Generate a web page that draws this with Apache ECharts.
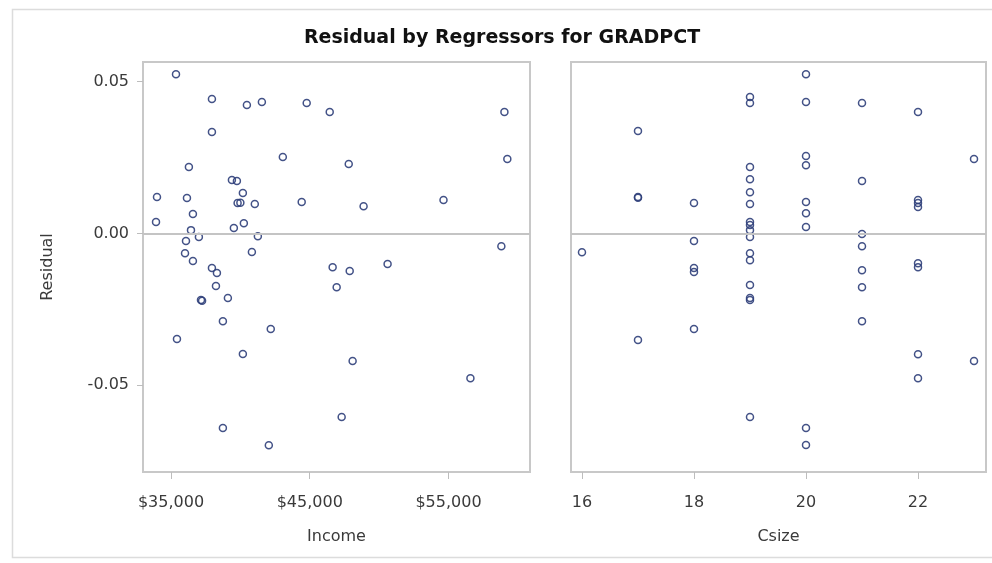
<!DOCTYPE html>
<html>
<head>
<meta charset="utf-8">
<title>Residual by Regressors for GRADPCT</title>
<script src="https://cdn.jsdelivr.net/npm/echarts@6/dist/echarts.min.js"></script>
<style>
  html, body { margin: 0; padding: 0; background: #fff; }
  #chart { width: 992px; height: 563px; }
</style>
</head>
<body>
<div id="chart"></div>
<script>
// Residuals of the GRADPCT model plotted against each regressor
const incomeValues = [
  35360, 37950, 40470, 41550, 44780, 46440, 59030, 37950, 43060, 59240,
  47810, 36290, 39390, 39750, 40180, 33990, 36150, 54640, 44420, 39800,
  40000, 41040, 48880, 36580, 33920, 40250, 39530, 36440, 41260, 37010,
  36080, 58810, 40830, 36010, 36580, 50610, 46650, 37950, 47880, 38310,
  38240, 46940, 39100, 37160, 37240, 38740, 42190, 35430, 40180, 48090,
  56580, 47300, 38740, 42050
];
const incomeResiduals = [
  0.0525, 0.0443, 0.0423, 0.0433, 0.0430, 0.0400, 0.0400, 0.0334, 0.0252, 0.0245,
  0.0229, 0.0219, 0.0176, 0.0173, 0.0133, 0.0120, 0.0117, 0.0110, 0.0104, 0.0100,
  0.0101, 0.0097, 0.0090, 0.0064, 0.0038, 0.0034, 0.0018, 0.0011, -0.0009, -0.0012,
  -0.0025, -0.0042, -0.0061, -0.0065, -0.0091, -0.0101, -0.0111, -0.0114, -0.0124, -0.0130,
  -0.0173, -0.0177, -0.0213, -0.0219, -0.0222, -0.0289, -0.0315, -0.0348, -0.0397, -0.0420,
  -0.0477, -0.0605, -0.0641, -0.0698
];

const csizeValues = [
  16,
  17, 17, 17, 17,
  18, 18, 18, 18, 18,
  19, 19, 19, 19, 19, 19, 19, 19, 19, 19, 19, 19, 19, 19, 19, 19,
  20, 20, 20, 20, 20, 20, 20, 20, 20,
  21, 21, 21, 21, 21, 21, 21,
  22, 22, 22, 22, 22, 22, 22, 22,
  23, 23
];
const csizeResiduals = [
  -0.0062,
  0.0338, 0.0120, 0.0118, -0.0351,
  0.0100, -0.0025, -0.0114, -0.0127, -0.0315,
  0.0450, 0.0430, 0.0219, 0.0179, 0.0136, 0.0097, 0.0038, 0.0028, 0.0011, -0.0012,
  -0.0065, -0.0088, -0.0170, -0.0213, -0.0219, -0.0605,
  0.0525, 0.0433, 0.0255, 0.0225, 0.0104, 0.0067, 0.0021, -0.0641, -0.0697,
  0.0430, 0.0173, -0.0002, -0.0042, -0.0121, -0.0177, -0.0289,
  0.0400, 0.0110, 0.0100, 0.0087, -0.0098, -0.0111, -0.0398, -0.0477,
  0.0245, -0.0420
];

const incomeTicks = [35000, 45000, 55000];
const csizeTicks = [16, 18, 20, 22];
const residualTicks = [-0.05, 0, 0.05];

const FONT = 'DejaVu Sans';
const TEXT_COLOR = '#3a3a3a';
const FRAME_COLOR = '#c8c8c8';
const MARKER_COLOR = '#2f3f7a';

const pair = (xs, ys) => xs.map((x, i) => [x, ys[i]]);

function xAxisFor(gridIndex, name, min, max, ticks, fmt) {
  return {
    type: 'value', gridIndex, name, min, max, position: 'bottom',
    nameLocation: 'middle', nameGap: 57,
    nameTextStyle: { fontFamily: FONT, fontSize: 16, color: TEXT_COLOR },
    axisLine: { show: false, onZero: false },
    axisTick: { show: true, inside: false, length: 7, customValues: ticks,
      lineStyle: { color: '#bdbdbd', width: 1 } },
    axisLabel: { customValues: ticks, margin: 23, formatter: fmt,
      fontFamily: FONT, fontSize: 16, color: TEXT_COLOR },
    splitLine: { show: false }
  };
}

function yAxisFor(gridIndex, showLabels) {
  return {
    type: 'value', gridIndex, min: -0.0786, max: 0.0565, position: 'left',
    name: showLabels ? 'Residual' : '',
    nameLocation: 'middle', nameGap: 87,
    nameTextStyle: { fontFamily: FONT, fontSize: 16, color: TEXT_COLOR },
    axisLine: { show: false, onZero: false },
    axisTick: { show: showLabels, inside: false, length: 6, customValues: residualTicks,
      lineStyle: { color: '#bdbdbd', width: 1 } },
    axisLabel: { show: showLabels, customValues: residualTicks, margin: 14,
      formatter: v => v.toFixed(2),
      fontFamily: FONT, fontSize: 16, color: TEXT_COLOR },
    splitLine: { show: false }
  };
}

const zeroLine = {
  silent: true, symbol: 'none', label: { show: false },
  lineStyle: { color: '#c4c4c4', width: 2, type: 'solid' },
  data: [{ yAxis: 0 }]
};

function scatterSeries(idx, data) {
  return {
    type: 'scatter', xAxisIndex: idx, yAxisIndex: idx, data,
    symbol: 'circle', symbolSize: 7,
    itemStyle: { color: 'rgba(255,255,255,0)', borderColor: MARKER_COLOR,
      borderWidth: 1.5, opacity: 0.9 },
    markLine: zeroLine,
    z: 3
  };
}

const chart = echarts.init(document.getElementById('chart'), null, { renderer: 'canvas' });
chart.setOption({
  backgroundColor: '#ffffff',
  animation: false,
  graphic: [
    { type: 'rect', left: 10, top: 7, shape: { width: 1000, height: 548 },
      style: { fill: 'none', stroke: '#dcdcdc', lineWidth: 1.5 }, z: -1 },
    { type: 'text', x: 502, y: 29,
      style: { text: 'Residual by Regressors for GRADPCT', fontFamily: FONT,
        fontWeight: 'bold', fontSize: 19, fill: '#111', textAlign: 'center' } }
  ],
  grid: [
    { left: 143, top: 62, width: 387, height: 410, show: true,
      borderColor: FRAME_COLOR, borderWidth: 2, backgroundColor: '#fff' },
    { left: 571, top: 62, width: 415, height: 410, show: true,
      borderColor: FRAME_COLOR, borderWidth: 2, backgroundColor: '#fff' }
  ],
  xAxis: [
    xAxisFor(0, 'Income', 32982, 60874, incomeTicks,
      v => '$' + v.toLocaleString('en-US')),
    xAxisFor(1, 'Csize', 15.804, 23.214, csizeTicks, v => String(v))
  ],
  yAxis: [yAxisFor(0, true), yAxisFor(1, false)],
  series: [
    scatterSeries(0, pair(incomeValues, incomeResiduals)),
    scatterSeries(1, pair(csizeValues, csizeResiduals))
  ]
});
</script>
</body>
</html>
